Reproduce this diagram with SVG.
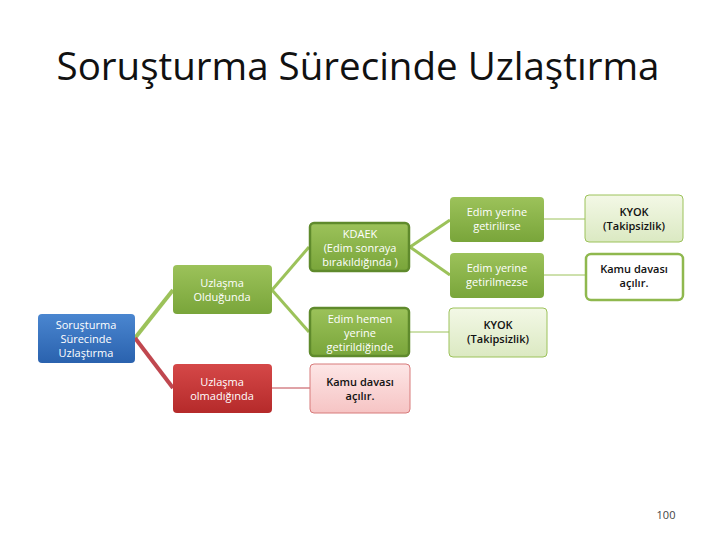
<svg xmlns="http://www.w3.org/2000/svg" width="720" height="540" viewBox="0 0 720 540">
<defs>
<linearGradient id="gb" x1="0" y1="0" x2="0" y2="1"><stop offset="0" stop-color="#4a86d0"/><stop offset="1" stop-color="#2a62ae"/></linearGradient>
<linearGradient id="gg" x1="0" y1="0" x2="0" y2="1"><stop offset="0" stop-color="#9cc25a"/><stop offset="1" stop-color="#79a53a"/></linearGradient>
<linearGradient id="gr" x1="0" y1="0" x2="0" y2="1"><stop offset="0" stop-color="#d54848"/><stop offset="1" stop-color="#b52a2a"/></linearGradient>
<linearGradient id="gp" x1="0" y1="0" x2="0" y2="1"><stop offset="0" stop-color="#fde6e6"/><stop offset="1" stop-color="#f6c4c4"/></linearGradient>
<linearGradient id="gl" x1="0" y1="0" x2="0" y2="1"><stop offset="0" stop-color="#f3f8e6"/><stop offset="1" stop-color="#dbe9c2"/></linearGradient>
</defs>
<style>
text{font-family:"Open Sans","Liberation Sans",sans-serif;text-anchor:middle;font-size:11px}
.w{fill:#fff}.k{fill:#111;font-weight:600}
.c{fill:none}
</style>
<rect width="720" height="540" fill="#fff"/>
<text x="358" y="80" style="font-size:38.5px" fill="#111">Soruşturma Sürecinde Uzlaştırma</text>
<g id="connectors" class="c">
<line x1="135" y1="338" x2="173" y2="290" stroke="#9cc25a" stroke-width="4"/>
<line x1="135" y1="338" x2="173" y2="388" stroke="#c0474f" stroke-width="4"/>
<line x1="272" y1="290" x2="309" y2="247" stroke="#9cc25a" stroke-width="3"/>
<line x1="272" y1="290" x2="309" y2="332" stroke="#9cc25a" stroke-width="3"/>
<line x1="410" y1="247" x2="450" y2="220" stroke="#9cc25a" stroke-width="3"/>
<line x1="410" y1="247" x2="450" y2="275" stroke="#9cc25a" stroke-width="3"/>
<line x1="410" y1="332" x2="449" y2="332" stroke="#9cc25a" stroke-width="1"/>
<line x1="272" y1="388" x2="310" y2="388" stroke="#c0474f" stroke-width="1"/>
<line x1="544" y1="219" x2="585" y2="219" stroke="#9cc25a" stroke-width="1"/>
<line x1="544" y1="275" x2="585" y2="275" stroke="#9cc25a" stroke-width="1"/>
</g>
<g id="root"><rect x="38" y="314" width="97" height="49" rx="4" fill="url(#gb)"/>
<text class="w" x="86" y="329">Soruşturma</text><text class="w" x="86" y="343">Sürecinde</text><text class="w" x="86" y="357">Uzlaştırma</text></g>
<g id="olunca"><rect x="173" y="265" width="99" height="49" rx="4" fill="url(#gg)"/>
<text class="w" x="222" y="287">Uzlaşma</text><text class="w" x="222" y="301">Olduğunda</text></g>
<g id="olmayinca"><rect x="173" y="364" width="99" height="49" rx="4" fill="url(#gr)"/>
<text class="w" x="222" y="386">Uzlaşma</text><text class="w" x="222" y="400">olmadığında</text></g>
<g id="kdaek"><rect x="310" y="223" width="99" height="48" rx="4" fill="url(#gg)" stroke="#5f8a2c" stroke-width="2.5"/>
<text class="w" x="360" y="238">KDAEK</text><text class="w" x="360" y="252">(Edim sonraya</text><text class="w" x="360" y="266">bırakıldığında )</text></g>
<g id="hemen"><rect x="310" y="308" width="99" height="48" rx="4" fill="url(#gg)" stroke="#5f8a2c" stroke-width="2.5"/>
<text class="w" x="360" y="323">Edim hemen</text><text class="w" x="360" y="337">yerine</text><text class="w" x="360" y="351">getirildiğinde</text></g>
<g id="kamu1"><rect x="310" y="364" width="100" height="49" rx="4" fill="url(#gp)" stroke="#d77a7a" stroke-width="1"/>
<text class="k" x="360" y="386">Kamu davası</text><text class="k" x="360" y="400">açılır.</text></g>
<g id="getirilirse"><rect x="450" y="197" width="94" height="45" rx="4" fill="url(#gg)"/>
<text class="w" x="497" y="216">Edim yerine</text><text class="w" x="497" y="230">getirilirse</text></g>
<g id="getirilmezse"><rect x="450" y="253" width="94" height="45" rx="4" fill="url(#gg)"/>
<text class="w" x="497" y="272">Edim yerine</text><text class="w" x="497" y="286">getirilmezse</text></g>
<g id="kyok1"><rect x="585" y="195" width="98" height="47" rx="4" fill="url(#gl)" stroke="#9cc25a" stroke-width="1"/>
<text class="k" x="634" y="216">KYOK</text><text class="k" x="634" y="230">(Takipsizlik)</text></g>
<g id="kamu2"><rect x="586" y="254" width="97" height="46" rx="5" fill="#fff" stroke="#8fb84e" stroke-width="2.5"/>
<text class="k" x="634" y="273">Kamu davası</text><text class="k" x="634" y="287">açılır.</text></g>
<g id="kyok2"><rect x="449" y="308" width="98" height="49" rx="4" fill="url(#gl)" stroke="#9cc25a" stroke-width="1"/>
<text class="k" x="498" y="329">KYOK</text><text class="k" x="498" y="343">(Takipsizlik)</text></g>
<text x="666" y="519" style="font-size:11px" fill="#444">100</text>
</svg>
